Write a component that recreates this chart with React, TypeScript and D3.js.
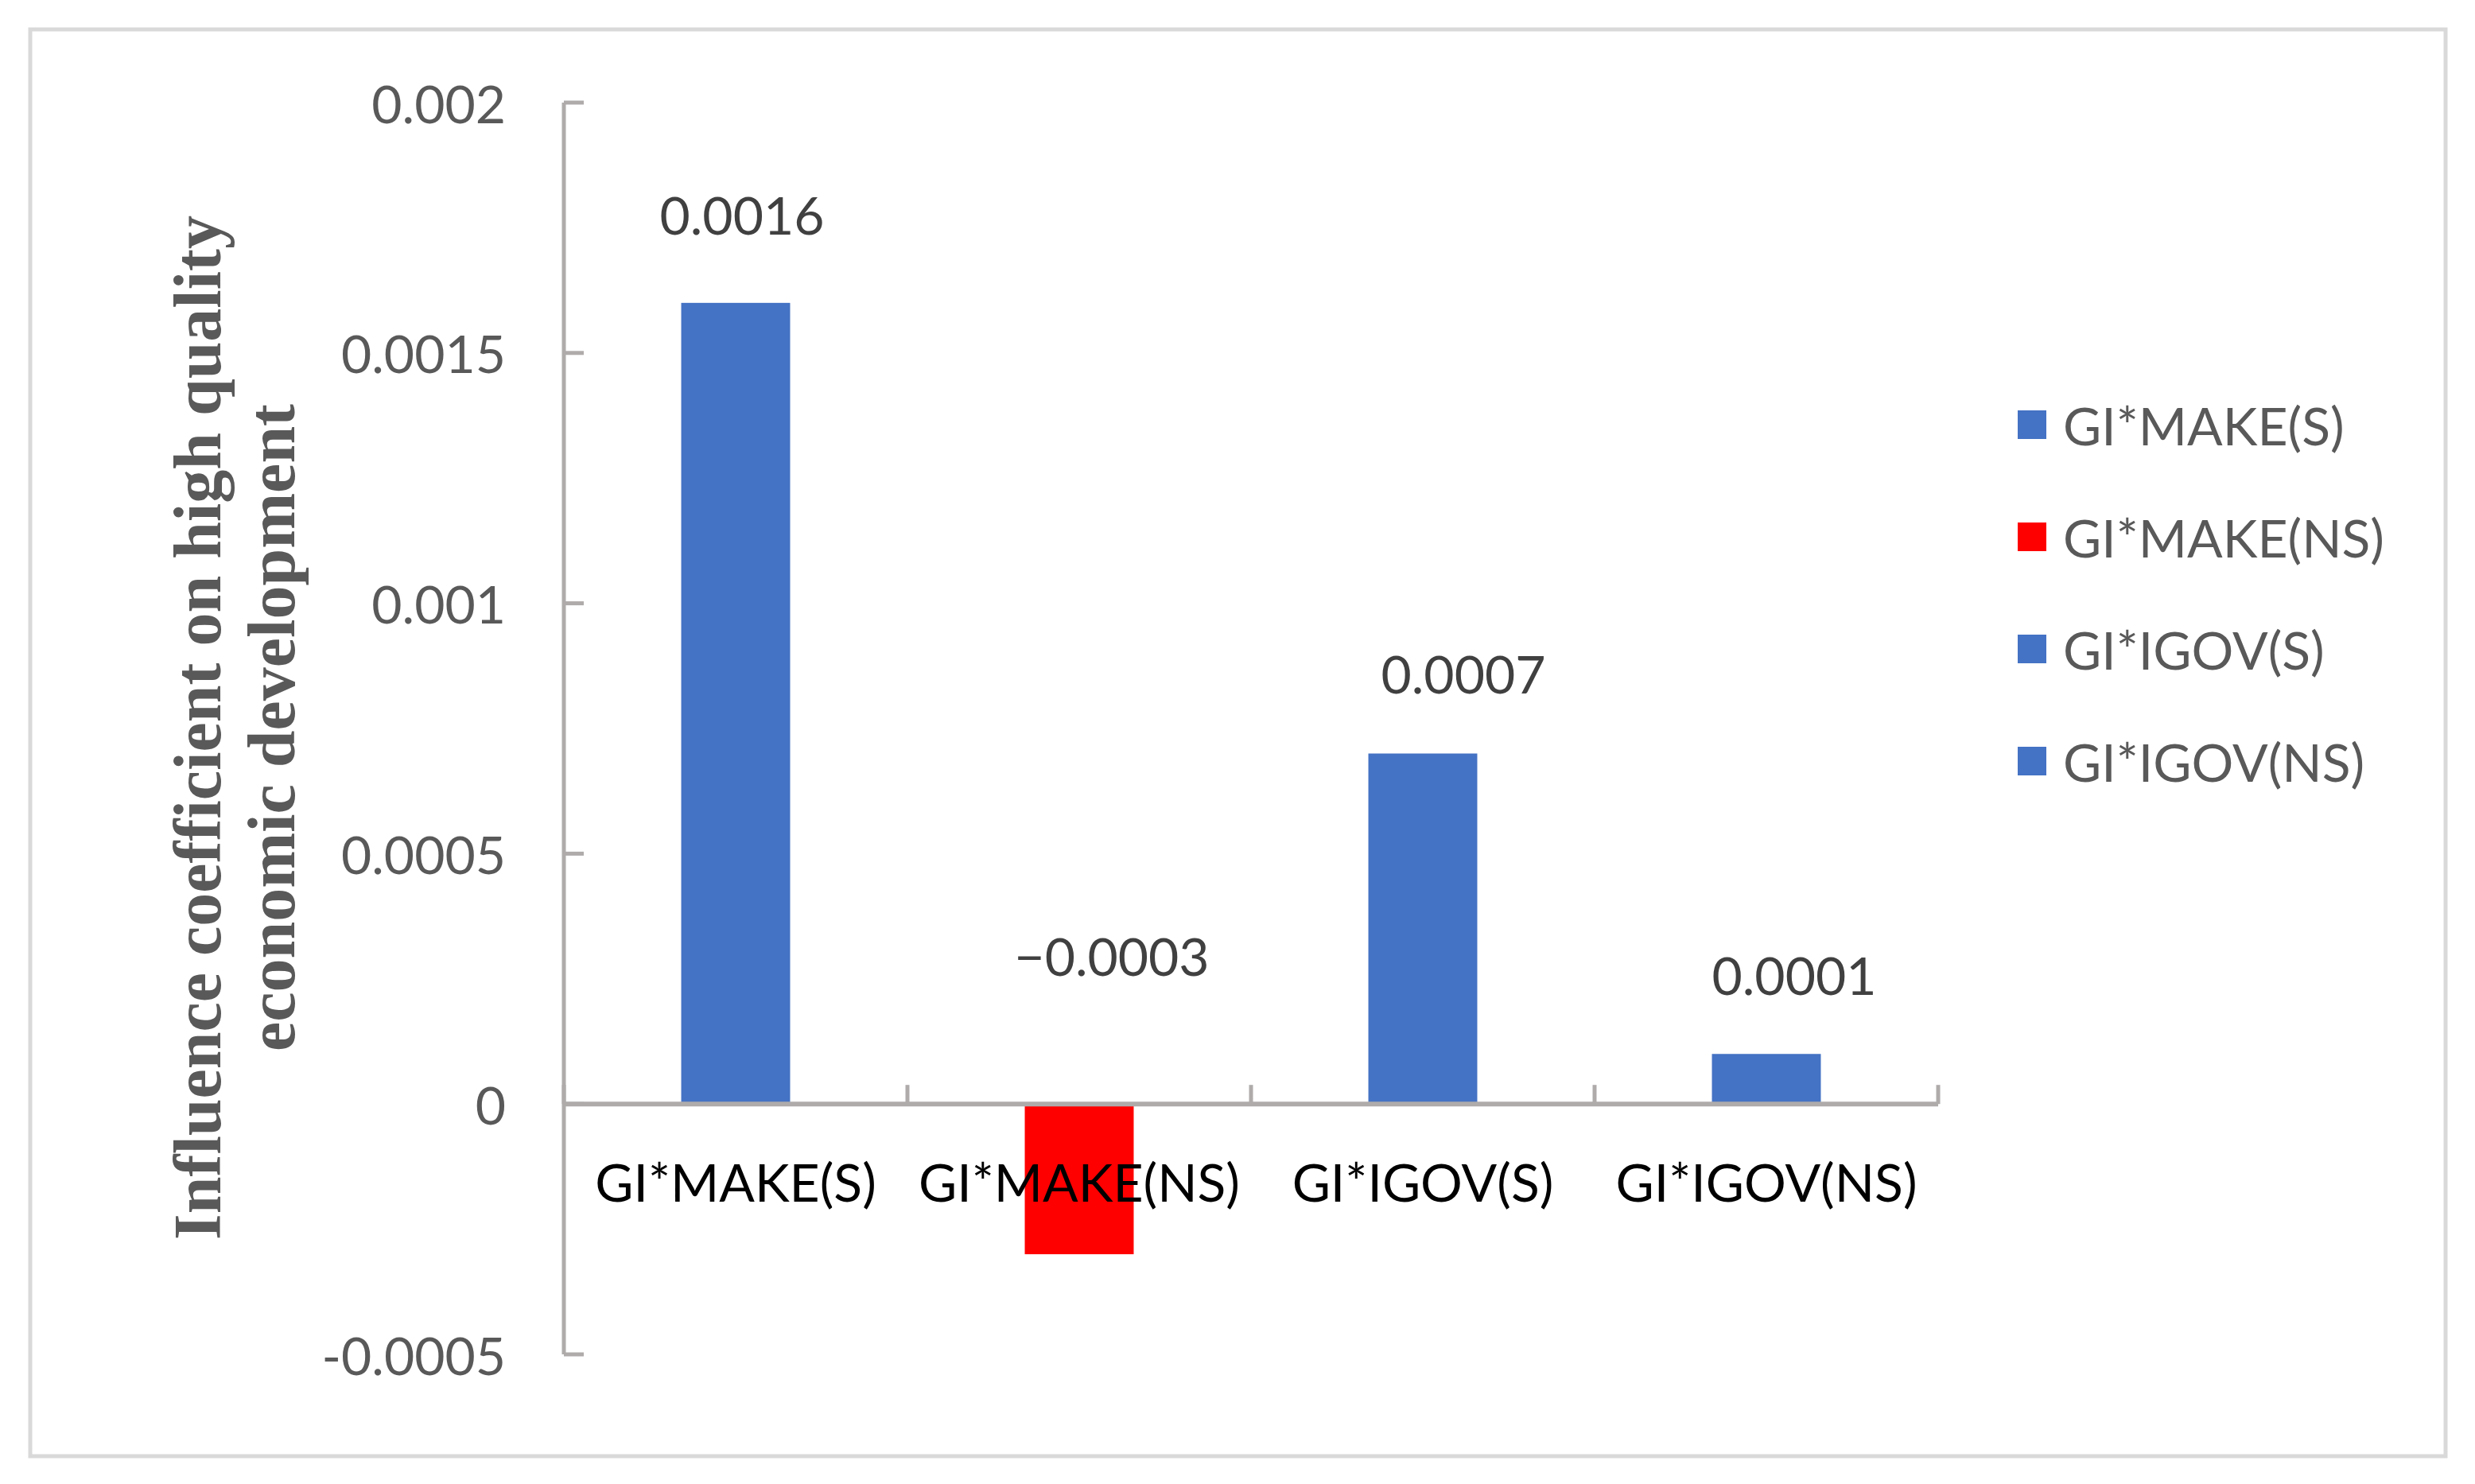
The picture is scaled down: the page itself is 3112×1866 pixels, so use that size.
import React from "react";
import * as d3 from "d3";

const categories = ["GI*MAKE(S)", "GI*MAKE(NS)", "GI*IGOV(S)", "GI*IGOV(NS)"];
const values = [0.0016, -0.0003, 0.0007, 0.0001];
const labels = ["0.0016", "\u22120.0003", "0.0007", "0.0001"];
const barColors = ["#4472C4", "#FF0000", "#4472C4", "#4472C4"];
const yTicks = [-0.0005, 0, 0.0005, 0.001, 0.0015, 0.002];
const yTickLabels = ["-0.0005", "0", "0.0005", "0.001", "0.0015", "0.002"];
const yTitleLines = ["Influence coefficient on high quality", "economic development"];

// layout nudges for manually placed data labels (px)
const labelNudgeX = [8, 41, 51, 35];
const labelGap = [111, 0, 101, 100];

const W = 3112;
const H = 1866;
const FONT = "Lato, 'Open Sans', sans-serif";

export default function App() {
  const x = d3
    .scaleBand<string>()
    .domain(categories)
    .range([709, 2437])
    .paddingInner(0.683)
    .paddingOuter(0.683 / 2);
  const y = d3.scaleLinear().domain([-0.0005, 0.002]).range([1703, 129]);
  const y0 = y(0);
  const step = x.step();
  const axisColor = "#AFABAB";
  const boundaries = d3.range(categories.length + 1).map((i) => 709 + i * step);

  return (
    <div style={{ position: "absolute", left: 0, top: 0, width: W, height: H, background: "#fff" }}>
      <svg width={W} height={H} viewBox={`0 0 ${W} ${H}`} style={{ display: "block" }}>
        <rect x={0} y={0} width={W} height={H} fill="#fff" />
        <rect x={38} y={37} width={3037} height={1794} fill="none" stroke="#D9D9D9" strokeWidth={5} />

        {/* bars */}
        {values.map((v, i) => {
          const bx = x(categories[i])!;
          const top = v >= 0 ? y(v) : y0;
          const h = Math.abs(y(v) - y0);
          return <rect key={i} x={bx} y={top} width={x.bandwidth()} height={h} fill={barColors[i]} />;
        })}

        {/* y axis */}
        <line x1={709} x2={709} y1={y(0.002)} y2={y(-0.0005)} stroke={axisColor} strokeWidth={5} />
        {yTicks.map((t, i) => (
          <g key={i}>
            <line x1={709} x2={734} y1={y(t)} y2={y(t)} stroke={axisColor} strokeWidth={5} />
            <text
              x={636}
              y={y(t)}
              textAnchor="end"
              dominantBaseline="central"
              fontFamily={FONT}
              fontSize={66}
              fill="#595959"
            >
              {yTickLabels[i]}
            </text>
          </g>
        ))}

        {/* x axis at zero */}
        <line x1={709} x2={2437} y1={y0} y2={y0} stroke={axisColor} strokeWidth={6} />
        {boundaries.map((bx, i) => (
          <line key={i} x1={bx} x2={bx} y1={y0} y2={y0 - 24} stroke={axisColor} strokeWidth={5} />
        ))}

        {/* category labels */}
        {categories.map((c, i) => (
          <text
            key={c}
            x={x(c)! + x.bandwidth() / 2}
            y={1485}
            textAnchor="middle"
            dominantBaseline="central"
            fontFamily={FONT}
            fontSize={66}
            fill="#000"
          >
            {c}
          </text>
        ))}

        {/* data labels */}
        {values.map((v, i) => {
          const cx = x(categories[i])! + x.bandwidth() / 2 + labelNudgeX[i];
          const cy = v >= 0 ? y(v) - labelGap[i] : y0 - 187;
          return (
            <text
              key={i}
              x={cx}
              y={cy}
              textAnchor="middle"
              dominantBaseline="central"
              fontFamily={FONT}
              fontSize={66}
              fill="#404040"
            >
              {labels[i]}
            </text>
          );
        })}

        {/* y axis title */}
        {yTitleLines.map((line, i) => (
          <text
            key={i}
            transform={`translate(${248 + i * 93}, 915) rotate(-90)`}
            textAnchor="middle"
            dominantBaseline="central"
            fontFamily="'Liberation Serif', 'Times New Roman', serif"
            fontWeight="bold"
            fontSize={84}
            fill="#595959"
          >
            {line}
          </text>
        ))}

        {/* legend */}
        {categories.map((c, i) => {
          const cy = 534 + i * 141;
          return (
            <g key={c}>
              <rect x={2537} y={cy - 18} width={36} height={36} fill={barColors[i]} />
              <text
                x={2594}
                y={cy}
                dominantBaseline="central"
                fontFamily={FONT}
                fontSize={66}
                fill="#595959"
              >
                {c}
              </text>
            </g>
          );
        })}
      </svg>
    </div>
  );
}
